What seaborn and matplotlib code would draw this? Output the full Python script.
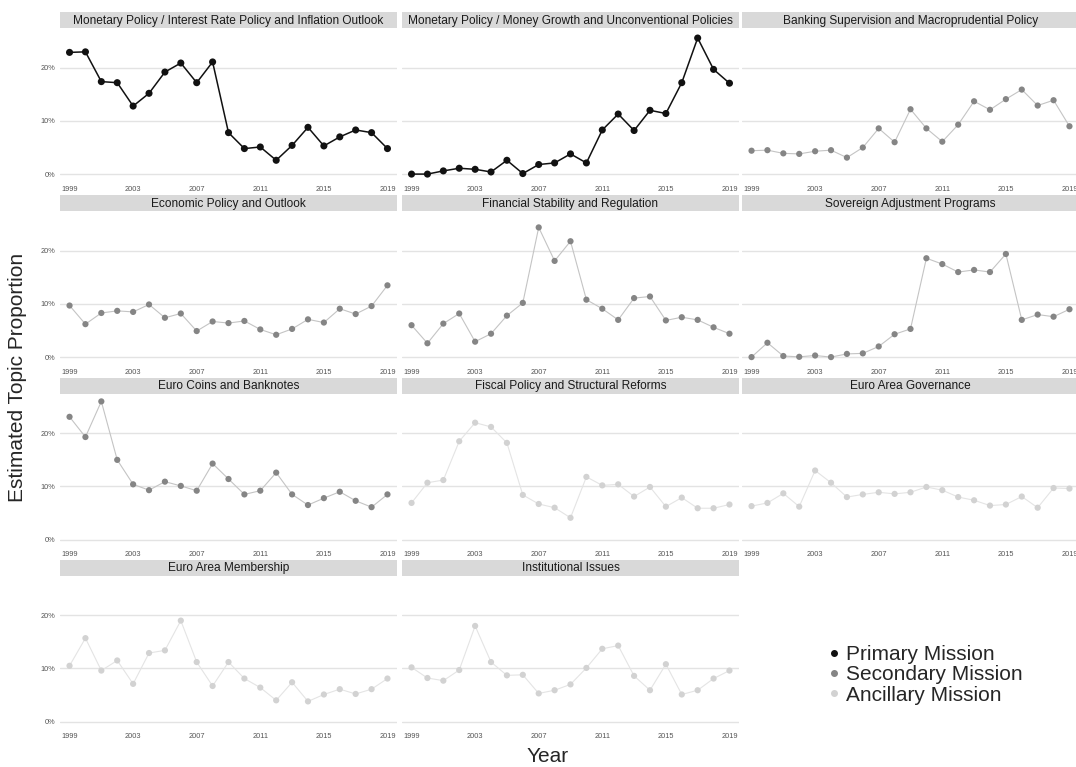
import numpy as np
import pandas as pd
import seaborn as sns
import matplotlib.pyplot as plt
from matplotlib.lines import Line2D
from matplotlib.ticker import PercentFormatter

years = list(range(1999, 2020))

# topic names, in panel order
topics = ['Monetary Policy / Interest Rate Policy and Inflation Outlook',
          'Monetary Policy / Money Growth and Unconventional Policies',
          'Banking Supervision and Macroprudential Policy',
          'Economic Policy and Outlook',
          'Financial Stability and Regulation',
          'Sovereign Adjustment Programs',
          'Euro Coins and Banknotes',
          'Fiscal Policy and Structural Reforms',
          'Euro Area Governance',
          'Euro Area Membership',
          'Institutional Issues']

missions = ['Primary Mission', 'Primary Mission',
            'Secondary Mission', 'Secondary Mission', 'Secondary Mission', 'Secondary Mission', 'Secondary Mission',
            'Ancillary Mission', 'Ancillary Mission', 'Ancillary Mission', 'Ancillary Mission']

# estimated topic proportions (%), 1999..2019
interest_rate = [22.9, 23.0, 17.4, 17.2, 12.8, 15.2, 19.2, 20.9, 17.2, 21.1, 7.8,
                 4.8, 5.1, 2.6, 5.4, 8.8, 5.3, 7.0, 8.3, 7.8, 4.8]
money_growth = [0.0, 0.0, 0.6, 1.1, 0.9, 0.4, 2.6, 0.1, 1.8, 2.1, 3.8,
                2.1, 8.3, 11.3, 8.2, 12.0, 11.4, 17.2, 25.6, 19.7, 17.1]
banking_supervision = [4.4, 4.5, 3.9, 3.8, 4.3, 4.5, 3.1, 5.0, 8.6, 6.0, 12.2,
                       8.6, 6.1, 9.3, 13.7, 12.1, 14.1, 15.9, 12.9, 13.9, 9.0]
economic_policy = [9.7, 6.2, 8.3, 8.7, 8.5, 9.9, 7.4, 8.2, 4.9, 6.7, 6.4,
                   6.8, 5.2, 4.2, 5.3, 7.1, 6.5, 9.1, 8.1, 9.6, 13.5]
financial_stability = [6.0, 2.6, 6.3, 8.2, 2.9, 4.4, 7.8, 10.2, 24.4, 18.1, 21.8,
                       10.8, 9.1, 7.0, 11.1, 11.4, 6.9, 7.5, 7.0, 5.6, 4.4]
sovereign_programs = [0.0, 2.7, 0.2, 0.05, 0.3, 0.0, 0.6, 0.7, 2.0, 4.3, 5.3,
                      18.6, 17.5, 16.0, 16.4, 16.0, 19.4, 7.0, 8.0, 7.6, 9.0]
coins_banknotes = [23.1, 19.3, 26.0, 15.0, 10.4, 9.3, 10.9, 10.1, 9.2, 14.3, 11.4,
                   8.5, 9.2, 12.6, 8.5, 6.5, 7.8, 9.0, 7.3, 6.1, 8.5]
fiscal_policy = [6.9, 10.7, 11.2, 18.5, 22.0, 21.2, 18.2, 8.4, 6.7, 6.0, 4.1,
                 11.8, 10.2, 10.4, 8.1, 9.9, 6.2, 7.9, 5.9, 5.9, 6.6]
governance = [6.3, 6.9, 8.7, 6.2, 13.0, 10.7, 8.0, 8.5, 8.9, 8.6, 8.9,
              9.9, 9.3, 8.0, 7.4, 6.4, 6.6, 8.1, 6.0, 9.7, 9.6]
membership = [10.5, 15.7, 9.6, 11.5, 7.1, 12.9, 13.4, 19.0, 11.2, 6.7, 11.2,
              8.1, 6.4, 4.0, 7.4, 3.8, 5.1, 6.1, 5.2, 6.1, 8.1]
institutional = [10.2, 8.2, 7.7, 9.7, 18.0, 11.2, 8.7, 8.8, 5.3, 5.9, 7.0,
                 10.1, 13.7, 14.3, 8.6, 5.9, 10.8, 5.1, 5.9, 8.1, 9.6]

series = [interest_rate, money_growth, banking_supervision, economic_policy,
          financial_stability, sovereign_programs, coins_banknotes, fiscal_policy,
          governance, membership, institutional]

df = pd.concat([pd.DataFrame({'Year': years, 'Share': s, 'Topic': t, 'Mission': m})
                for t, m, s in zip(topics, missions, series)], ignore_index=True)

# point colour, line colour, point size, line width
mission_style = {'Primary Mission': ('#111111', '#111111', 26, 1.1),
                 'Secondary Mission': ('#858585', '#c4c4c4', 20, 0.8),
                 'Ancillary Mission': ('#d2d2d2', '#e4e4e4', 20, 0.8)}

sns.set_style('white')
plt.rcParams['font.family'] = ['Liberation Sans', 'DejaVu Sans']

W, H = 1076, 767
fig = plt.figure(figsize=(W / 100, H / 100), dpi=100)

col_left = [60, 402, 742]
row_top = [29, 212, 394.5, 576.5]
ax_w, ax_h = 337, 152
strip_h = 16

for i, topic in enumerate(topics):
    r, c = divmod(i, 3)
    left, top = col_left[c], row_top[r]
    ax = fig.add_axes([left / W, 1 - (top + ax_h) / H, ax_w / W, ax_h / H])
    # grey facet strip above each panel
    sax = fig.add_axes([left / W, 1 - (top - 1) / H, ax_w / W, strip_h / H])
    sax.set_facecolor('#d9d9d9')
    sax.set_xticks([])
    sax.set_yticks([])
    for sp in sax.spines.values():
        sp.set_visible(False)
    sax.text(0.5, 0.45, topic, ha='center', va='center', fontsize=8.6, color='#1a1a1a',
             transform=sax.transAxes)

    sub = df[df['Topic'] == topic]
    pc, lc, ms, lw = mission_style[missions[i]]
    sns.lineplot(data=sub, x='Year', y='Share', ax=ax, color=lc, linewidth=lw, zorder=2)
    sns.scatterplot(data=sub, x='Year', y='Share', ax=ax, color=pc, s=ms,
                    edgecolor='none', zorder=3)

    ax.set_xlim(1998.4, 2019.6)
    ax.set_ylim(-1.3, 27.3)
    ax.set_xticks([1999, 2003, 2007, 2011, 2015, 2019])
    ax.set_yticks([0, 10, 20])
    ax.yaxis.set_major_formatter(PercentFormatter(xmax=100, decimals=0))
    ax.grid(axis='y', color='#e3e3e3', linewidth=1.0)
    ax.grid(axis='x', visible=False)
    ax.set_axisbelow(True)
    for sp in ax.spines.values():
        sp.set_visible(False)
    ax.tick_params(axis='both', length=2, width=0.5, color='#333333', labelsize=5.3,
                   labelcolor='#555555', pad=1.5)
    if c != 0:
        ax.tick_params(axis='y', left=False, labelleft=False)
    ax.set_xlabel('')
    ax.set_ylabel('')

fig.text(18 / W, 1 - 377 / H, 'Estimated Topic Proportion', rotation=90,
         ha='center', va='center', fontsize=15)
fig.text(548 / W, 1 - 757 / H, 'Year', ha='center', va='center', fontsize=15)

handles = [Line2D([], [], marker='o', linestyle='', color=mission_style[m][0], markersize=4)
           for m in ['Primary Mission', 'Secondary Mission', 'Ancillary Mission']]
fig.legend(handles, ['Primary Mission', 'Secondary Mission', 'Ancillary Mission'],
           loc='center left', bbox_to_anchor=(828 / W, 1 - 675 / H), frameon=False,
           fontsize=15, handlelength=0.6, handletextpad=0.25, labelspacing=0.05,
           borderaxespad=0, borderpad=0)

fig.savefig('out.png', dpi=100)
